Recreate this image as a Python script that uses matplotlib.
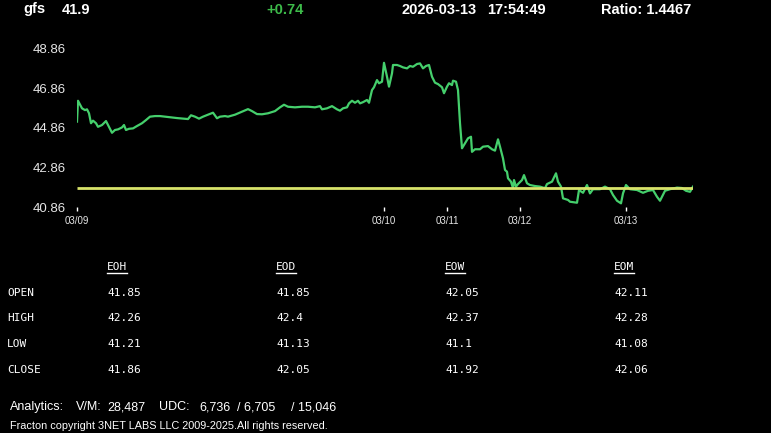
import matplotlib
matplotlib.use("Agg")
import matplotlib.pyplot as plt
from matplotlib.lines import Line2D

## Data ##

# session bar number (1 bar per pixel column) and price
bars = [0, 1, 5, 8, 10, 12, 14, 16, 19, 21, 25, 29, 32, 35, 38, 41, 45, 47, 49, 52,
        56, 60, 65, 69, 73, 78, 83, 88, 93, 100, 106, 111, 114, 118, 122, 126, 131, 136, 140, 143,
        148, 151, 158, 165, 171, 175, 180, 185, 191, 198, 203, 207, 211, 218, 225, 231, 238, 243, 245, 250,
        255, 260, 263, 266, 270, 272, 275, 278, 281, 283, 286, 290, 292, 295, 297, 300, 302, 305, 307, 310,
        312, 315, 316, 320, 323, 326, 330, 333, 336, 340, 343, 346, 349, 352, 355, 358, 361, 365, 367, 370,
        372, 375, 376, 379, 381, 383, 385, 388, 391, 394, 395, 398, 403, 406, 411, 415, 418, 421, 423, 426,
        428, 430, 431, 434, 436, 437, 439, 441, 445, 447, 450, 453, 458, 463, 468, 470, 475, 479, 481, 484,
        486, 491, 493, 500, 502, 506, 510, 513, 516, 523, 528, 533, 536, 540, 544, 546, 549, 553, 560, 566,
        571, 576, 580, 583, 588, 593, 600, 605, 609, 613, 616]
price = [45.17, 46.22, 45.84, 45.75, 45.79, 45.59, 45.09, 45.22, 45.09, 44.91, 45.00, 45.20, 44.91, 44.61, 44.75, 44.78, 44.88, 45.00, 44.75, 44.81,
         44.83, 44.95, 45.09, 45.25, 45.42, 45.45, 45.45, 45.42, 45.39, 45.35, 45.32, 45.30, 45.49, 45.42, 45.32, 45.42, 45.52, 45.62, 45.34, 45.42,
         45.45, 45.42, 45.52, 45.67, 45.80, 45.70, 45.55, 45.54, 45.59, 45.70, 45.89, 46.02, 45.92, 45.89, 45.92, 45.92, 45.89, 45.95, 45.79, 45.84,
         45.95, 45.79, 45.72, 45.84, 45.89, 46.09, 46.22, 46.12, 46.22, 46.09, 46.15, 46.26, 46.12, 46.76, 46.90, 47.26, 47.10, 47.18, 48.13, 47.43,
         46.93, 47.60, 48.02, 48.02, 47.97, 47.90, 47.85, 47.97, 47.93, 48.07, 48.10, 47.85, 47.97, 48.02, 47.43, 47.13, 47.06, 46.90, 46.60, 46.93,
         47.10, 47.01, 47.23, 47.18, 46.76, 45.09, 43.83, 44.08, 44.33, 44.41, 43.65, 43.78, 43.78, 43.91, 43.94, 43.78, 43.71, 44.28, 43.91, 43.32,
         42.74, 42.65, 42.32, 42.15, 41.82, 42.23, 41.90, 42.03, 42.23, 42.48, 42.07, 41.98, 41.93, 41.90, 41.82, 42.03, 42.15, 42.57, 42.15, 41.90,
         41.31, 41.23, 41.14, 41.09, 41.73, 41.59, 41.98, 41.56, 41.77, 41.77, 41.90, 41.77, 41.48, 41.19, 41.06, 41.56, 41.98, 41.77, 41.73, 41.59,
         41.69, 41.73, 41.39, 41.19, 41.69, 41.77, 41.85, 41.83, 41.69, 41.64, 41.90]

ref_level = 41.82

day_bars = [0, 307, 370, 443, 549]
day_labels = ["03/09", "03/10", "03/11", "03/12", "03/13"]

y_ticks = [40.86, 42.86, 44.86, 46.86, 48.86]

symbol = "gfs"
last = "41.9"
change = "+0.74"
date_str = "2026-03-13"
time_str = "17:54:49"
ratio = "Ratio: 1.4467"

col_names = ["EOH", "EOD", "EOW", "EOM"]
row_names = ["OPEN", "HIGH", "LOW", "CLOSE"]
table = [["41.85", "41.85", "42.05", "42.11"],
         ["42.26", "42.4", "42.37", "42.28"],
         ["41.21", "41.13", "41.1", "41.08"],
         ["41.86", "42.05", "41.92", "42.06"]]

analytics = [("Analytics:", 10), ("V/M:", 76), ("28,487", 107), ("UDC:", 159),
             ("6,736", 199), ("/ 6,705", 237), ("/ 15,046", 291)]
copyright_txt = "Fracton copyright 3NET LABS LLC 2009-2025.All rights reserved."

####

W, H = 771, 433
fig = plt.figure(figsize=(W / 100, H / 100), dpi=100, facecolor="black")

def fx(px):
    return px / W

def fy(py):
    return 1 - py / H

## chart ##
ax = fig.add_axes([fx(77), fy(207.3), 616 / W, (207.3 - 48.3) / H], facecolor="black")
ax.plot(bars, price, color="#45cf6c", lw=1.6, solid_joinstyle="round")
ax.hlines(ref_level, bars[0], bars[-1], color="#d8e36a", lw=2)
ax.set_xlim(0, 616)
ax.set_ylim(y_ticks[0], y_ticks[-1])
for s in ax.spines.values():
    s.set_visible(False)
ax.set_yticks(y_ticks, [f"{v:.2f}" for v in y_ticks])
ax.set_xticks(day_bars, day_labels)
ax.tick_params(axis="y", length=0, pad=8, labelcolor="#e6e6e6", labelsize=9.5)
ax.tick_params(axis="x", length=3.2, width=1, color="white", pad=3,
               labelcolor="#e6e6e6", labelsize=7)
for lab in ax.get_xticklabels() + ax.get_yticklabels():
    lab.set_family("Liberation Sans")

## header ##
hdr = dict(family="Liberation Sans", weight="bold", size=10.5, va="center", ha="left", color="white")
fig.text(fx(23), fy(9.5), symbol, **hdr)
fig.text(fx(62), fy(9.5), last, **hdr)
fig.text(fx(266), fy(9.5), change, **{**hdr, "color": "#3dbb4a"})
fig.text(fx(401), fy(9.5), date_str, **hdr)
fig.text(fx(487), fy(9.5), time_str, **hdr)
fig.text(fx(601), fy(9.5), ratio, **hdr)

## table ##
mono = dict(family="DejaVu Sans Mono", size=8, va="center", ha="left", color="white")
col_x = [107, 276, 445, 614]
row_y = [293, 318, 344, 370]
headers = []
for name, cx in zip(col_names, col_x):
    headers.append(fig.text(fx(cx), fy(266.5), name, **mono))
for name, ry, vals in zip(row_names, row_y, table):
    fig.text(fx(7), fy(ry), name, **mono)
    for v, cx in zip(vals, col_x):
        fig.text(fx(cx), fy(ry), v, **mono)

fig.canvas.draw()
rend = fig.canvas.get_renderer()
for t in headers:
    bb = t.get_window_extent(rend)
    fig.add_artist(Line2D([bb.x0 / W, bb.x1 / W], [fy(272.7)] * 2, color="white", lw=1))

## footer ##
foot = dict(family="Liberation Sans", size=9, va="center", ha="left", color="white")
for txt, px in analytics:
    fig.text(fx(px), fy(407), txt, **foot)
fig.text(fx(10), fy(426), copyright_txt, family="Liberation Sans", size=7.8,
         va="center", ha="left", color="white")

fig.savefig("out.png", dpi=100, facecolor="black")
